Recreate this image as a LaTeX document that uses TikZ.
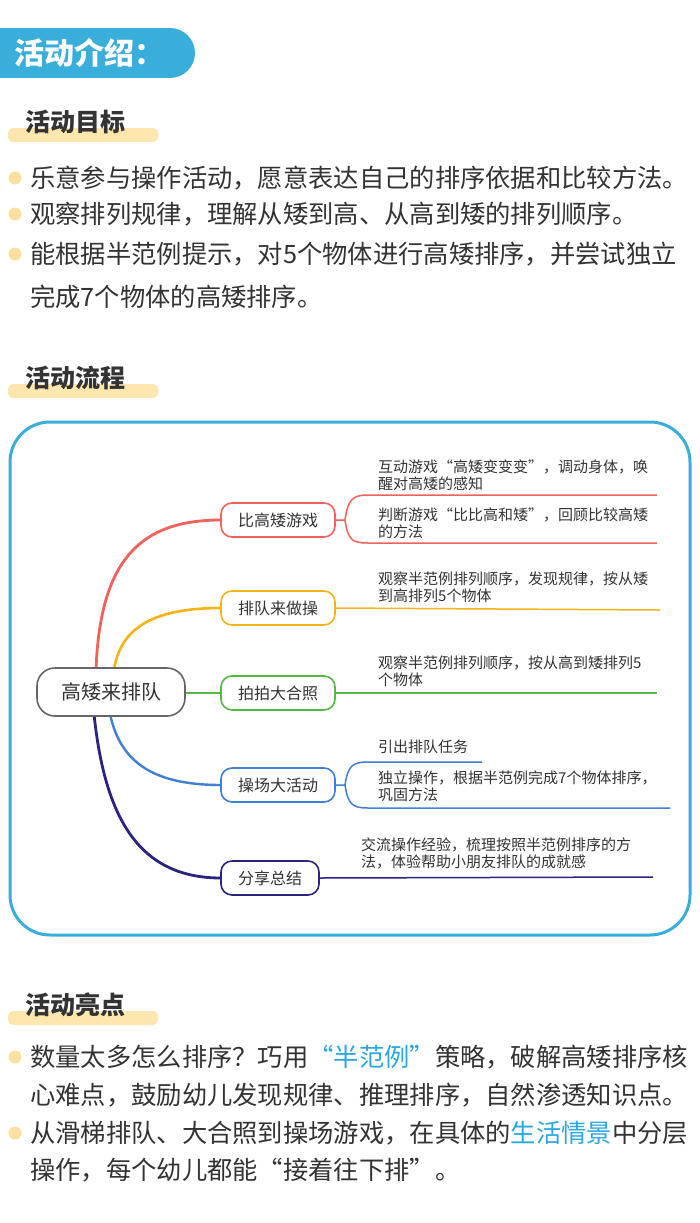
\documentclass[tikz,border=0pt]{standalone}
\usepackage{fontspec}
\setmainfont{Noto Sans CJK SC}
\definecolor{hblue}{HTML}{3AAEDB}
\definecolor{hyel}{HTML}{FDE7AE}
\definecolor{dot}{HTML}{FCE0A0}
\definecolor{tx}{HTML}{333333}
\definecolor{cred}{HTML}{F0625A}
\definecolor{corg}{HTML}{F5B316}
\definecolor{cgrn}{HTML}{55B844}
\definecolor{cblu}{HTML}{3F7FD4}
\definecolor{cnav}{HTML}{2A2382}
\definecolor{lnk}{HTML}{2AA7E0}
\tikzset{
 head/.style={anchor=west,font=\fontsize{25}{25}\selectfont\bfseries,text=tx,inner sep=0},
 body/.style={anchor=west,font=\fontsize{25.3}{25}\selectfont,text=tx,inner sep=0},
 bdot/.style={circle,fill=dot,minimum size=13pt,inner sep=0},
 br/.style={draw=#1,line width=1.6pt,rounded corners=11pt,minimum width=114pt,minimum height=34pt,font=\fontsize{16}{16}\selectfont,text=tx,fill=white},
 leaf/.style={anchor=west,align=left,font=\fontsize{15}{17}\selectfont,text=tx,inner sep=0},
}
\begin{document}
\begin{tikzpicture}[x=1pt,y=-1pt]
\useasboundingbox[fill=white] (0,0) rectangle (700,1223);
% header
\fill[hblue] (0,28) rectangle (170,78);
\fill[hblue] (170,53) circle[radius=25];
\node[anchor=west,text=white,font=\fontsize{30}{30}\selectfont\bfseries,inner sep=0] (h0) at (14,53) {活动介绍：};
% section 1
\fill[hyel,rounded corners=5pt] (8,128) rectangle (158,142);
\node[head] (s1) at (25,122) {活动目标};
\foreach \y in {178,214,254} \node[bdot] at (15,\y) {};
\node[body] (b1) at (30,178) {乐意参与操作活动，愿意表达自己的排序依据和比较方法。};
\node[body] (b2) at (30,214) {观察排列规律，理解从矮到高、从高到矮的排列顺序。};
\node[body] (b3) at (30,254) {能根据半范例提示，对5个物体进行高矮排序，并尝试独立};
\node[body] (b4) at (30,297) {完成7个物体的高矮排序。};
% section 2
\fill[hyel,rounded corners=5pt] (8,384) rectangle (158,398);
\node[head] (s2) at (25,378) {活动流程};
\draw[hblue,line width=3pt,rounded corners=40pt] (10,422) rectangle (690,935);
% mindmap curves
\draw[cred,line width=2.8pt] (96,670) .. controls (100,560) and (140,520) .. (221,520);
\draw[corg,line width=2.6pt] (114,670) .. controls (120,630) and (150,608) .. (221,608);
\draw[cgrn,line width=2.4pt] (185,693) -- (221,693);
\draw[cblu,line width=2.4pt] (110,714) .. controls (120,760) and (150,785) .. (221,785);
\draw[cnav,line width=2.8pt] (94,714) .. controls (105,820) and (140,878) .. (221,878);
\node[draw=gray!80!black,line width=1.6pt,rounded corners=18pt,minimum width=148pt,minimum height=48pt,fill=white,font=\fontsize{20}{20}\selectfont,text=tx] (c) at (111,692) {高矮来排队};
\node[br=cred] (n1) at (278,520) {比高矮游戏};
\node[br=corg] (n2) at (278,608) {排队来做操};
\node[br=cgrn] (n3) at (278,693) {拍拍大合照};
\node[br=cblu] (n4) at (278,785) {操场大活动};
\node[br=cnav,minimum width=98pt] (n5) at (270,878) {分享总结};
% leaves
\draw[cred,line width=1.5pt] (n1.east) -- (345,520) .. controls (348,500) and (352,495) .. (368,495) -- (657,495);
\draw[cred,line width=1.5pt] (345,520) .. controls (348,540) and (352,543) .. (368,543) -- (657,543);
\node[leaf] (l1) at (378,475) {互动游戏“高矮变变变”，调动身体，唤\\醒对高矮的感知};
\node[leaf] (l2) at (378,523) {判断游戏“比比高和矮”，回顾比较高矮\\的方法};
\draw[corg,line width=1.5pt] (n2.east) -- (660,610);
\node[leaf] (l3) at (378,587) {观察半范例排列顺序，发现规律，按从矮\\到高排列5个物体};
\draw[cgrn,line width=1.5pt] (n3.east) -- (657,693);
\node[leaf] (l4) at (378,671) {观察半范例排列顺序，按从高到矮排列5\\个物体};
\draw[cblu,line width=1.5pt] (n4.east) -- (345,785) .. controls (348,766) and (352,762) .. (368,762) -- (482,762);
\draw[cblu,line width=1.5pt] (345,785) .. controls (348,804) and (352,808) .. (368,808) -- (670,808);
\node[leaf] (l5) at (378,747) {引出排队任务};
\node[leaf] (l6) at (378,786) {独立操作，根据半范例完成7个物体排序，\\巩固方法};
\draw[cnav,line width=1.5pt] (n5.east) -- (653,877);
\node[leaf] (l7) at (361,853) {交流操作经验，梳理按照半范例排序的方\\法，体验帮助小朋友排队的成就感};
% section 3
\fill[hyel,rounded corners=5pt] (8,1011) rectangle (158,1025);
\node[head] (s3) at (25,1005) {活动亮点};
\foreach \y in {1057,1133} \node[bdot] at (15,\y) {};
\node[body] (d1) at (30,1057) {数量太多怎么排序？巧用\textcolor{lnk}{“半范例”}策略，破解高矮排序核};
\node[body] (d2) at (30,1095) {心难点，鼓励幼儿发现规律、推理排序，自然渗透知识点。};
\node[body] (d3) at (30,1133) {从滑梯排队、大合照到操场游戏，在具体的\textcolor{lnk}{生活情景}中分层};
\node[body] (d4) at (30,1170) {操作，每个幼儿都能“接着往下排”。};
\end{tikzpicture}
\end{document}
